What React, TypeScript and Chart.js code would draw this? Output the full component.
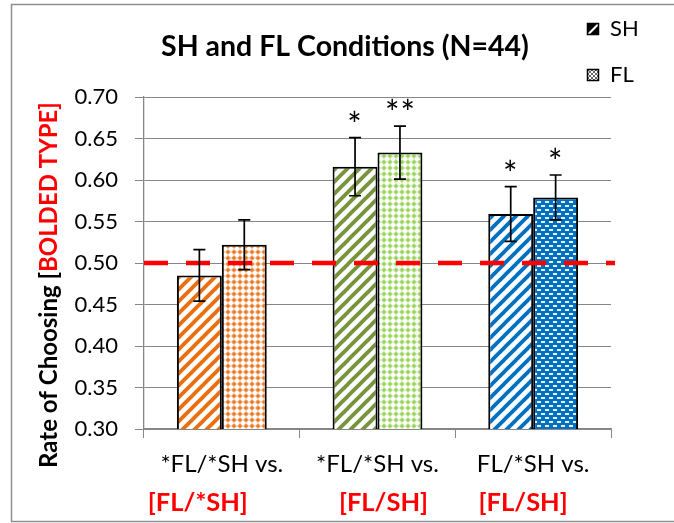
import { useEffect, useRef } from 'react';
import { Chart, registerables } from 'chart.js';

Chart.register(...registerables);

// ---------- data ----------
const categories = ['*FL/*SH vs.', '*FL/*SH vs.', 'FL/*SH vs.'];
const subLabels = ['[FL/*SH]', '[FL/SH]', '[FL/SH]'];
const seriesNames = ['SH', 'FL'];
const shValues = [0.485, 0.616, 0.559];
const flValues = [0.522, 0.633, 0.579];
const shErrors = [0.031, 0.035, 0.033];
const flErrors = [0.030, 0.032, 0.027];
const shStars = ['', '*', '*'];
const flStars = ['', '**', '*'];
const yMin = 0.3;
const yMax = 0.7;
const yStep = 0.05;
const chanceLevel = 0.5;
const titleText = 'SH and FL Conditions (N=44)';
const yTitleBlack = 'Rate of Choosing [';
const yTitleRed = 'BOLDED TYPE]';

// ---------- styles ----------
const shColors = ['#E87010', '#77933C', '#0070C0'];
const flColors = [[232, 115, 26], [146, 208, 80], [0, 112, 192]];
const flKinds = ['cross', 'cross', 'dash'];
const subLabelShift = [-24, 6, -10];
const FONT = 'Lato, "Open Sans", sans-serif';
const GRID = '#868686';

function stripePattern(ctx: CanvasRenderingContext2D, color: string) {
  const c = document.createElement('canvas');
  const s = 12;
  c.width = s; c.height = s;
  const g = c.getContext('2d')!;
  g.fillStyle = '#ffffff';
  g.fillRect(0, 0, s, s);
  g.strokeStyle = color;
  g.lineWidth = 3.8;
  g.lineCap = 'square';
  for (const o of [-s, 0, s]) {
    g.beginPath();
    g.moveTo(o - 1, s + 1);
    g.lineTo(o + s + 1, -1);
    g.stroke();
  }
  return ctx.createPattern(c, 'repeat')!;
}

function crossPattern(ctx: CanvasRenderingContext2D, rgb: number[]) {
  const c = document.createElement('canvas');
  const s = 6;
  c.width = s; c.height = s;
  const g = c.getContext('2d')!;
  g.fillStyle = '#ffffff';
  g.fillRect(0, 0, s, s);
  for (let x = 0; x < s; x++) {
    for (let y = 0; y < s; y++) {
      const dx = Math.min(x + 0.5, s - x - 0.5);
      const dy = Math.min(y + 0.5, s - y - 0.5);
      const d = dx + dy;
      let a = 0;
      if (d < 1.1) a = 0.95;
      else if (d < 2.1) a = 0.75;
      else if (d < 3.1) a = 0.3;
      if (a > 0) {
        g.fillStyle = `rgba(${rgb[0]},${rgb[1]},${rgb[2]},${a})`;
        g.fillRect(x, y, 1, 1);
      }
    }
  }
  return ctx.createPattern(c, 'repeat')!;
}

function dashPattern(ctx: CanvasRenderingContext2D, rgb: number[]) {
  const c = document.createElement('canvas');
  c.width = 8; c.height = 8;
  const g = c.getContext('2d')!;
  g.fillStyle = `rgb(${rgb[0]},${rgb[1]},${rgb[2]})`;
  g.fillRect(0, 0, 8, 8);
  g.fillStyle = 'rgba(255,255,255,0.9)';
  g.fillRect(1, 1, 4, 2);
  g.fillRect(5, 5, 3, 2);
  g.fillRect(0, 5, 1, 2);
  return ctx.createPattern(c, 'repeat')!;
}

const decorPlugin = {
  id: 'decor',
  beforeDraw(chart: any) {
    const ctx = chart.ctx as CanvasRenderingContext2D;
    ctx.save();
    ctx.strokeStyle = '#8F8F8F';
    ctx.lineWidth = 1.5;
    ctx.strokeRect(11.5, 4.5, 720, 517);
    ctx.restore();
  },
  afterDatasetsDraw(chart: any) {
    const ctx = chart.ctx as CanvasRenderingContext2D;
    const { chartArea, scales } = chart;
    const ys = scales.y;
    // chance line
    const y50 = ys.getPixelForValue(chanceLevel);
    ctx.save();
    ctx.strokeStyle = '#FF0000';
    ctx.lineWidth = 4.5;
    ctx.setLineDash([24, 18]);
    ctx.beginPath();
    ctx.moveTo(chartArea.left, y50);
    ctx.lineTo(chartArea.right + 4, y50);
    ctx.stroke();
    ctx.restore();

    // error bars and stars
    const sets = [
      { vals: shValues, errs: shErrors, stars: shStars },
      { vals: flValues, errs: flErrors, stars: flStars },
    ];
    sets.forEach((s, di) => {
      const meta = chart.getDatasetMeta(di);
      meta.data.forEach((bar: any, i: number) => {
        const x = bar.x;
        const top = ys.getPixelForValue(s.vals[i] + s.errs[i]);
        const bot = ys.getPixelForValue(s.vals[i] - s.errs[i]);
        ctx.save();
        ctx.strokeStyle = '#000';
        ctx.lineWidth = 1.7;
        ctx.beginPath();
        ctx.moveTo(x, top); ctx.lineTo(x, bot);
        ctx.moveTo(x - 6, top); ctx.lineTo(x + 6, top);
        ctx.moveTo(x - 6, bot); ctx.lineTo(x + 6, bot);
        ctx.stroke();
        if (s.stars[i]) {
          ctx.fillStyle = '#000';
          ctx.font = `34px ${FONT}`;
          (ctx as any).letterSpacing = '1px';
          ctx.textAlign = 'center';
          ctx.textBaseline = 'middle';
          ctx.fillText(s.stars[i], x + (s.stars[i].length > 1 ? 0.5 : 0), top - 12);
        }
        ctx.restore();
      });
    });
  },
  afterDraw(chart: any) {
    const ctx = chart.ctx as CanvasRenderingContext2D;
    const xs = chart.scales.x;
    ctx.save();
    // title
    ctx.fillStyle = '#000';
    ctx.font = `bold 28.5px ${FONT}`;
    ctx.textAlign = 'center';
    ctx.textBaseline = 'alphabetic';
    ctx.fillText(titleText, 345, 56);

    // legend
    const legendY = [23, 69];
    seriesNames.forEach((name, i) => {
      const bx = 587, by = legendY[i], bs = 11;
      ctx.fillStyle = '#fff';
      ctx.fillRect(bx, by, bs, bs);
      if (i === 0) {
        ctx.fillStyle = '#000';
        ctx.beginPath();
        ctx.moveTo(bx, by); ctx.lineTo(bx + bs, by); ctx.lineTo(bx, by + bs); ctx.closePath();
        ctx.fill();
        ctx.beginPath();
        ctx.moveTo(bx + bs, by + 3); ctx.lineTo(bx + bs, by + bs); ctx.lineTo(bx + 3, by + bs); ctx.closePath();
        ctx.fill();
      } else {
        for (let a = 0; a < bs; a += 2) {
          for (let b = 0; b < bs; b += 2) {
            if ((a + b) % 4 === 0) { ctx.fillStyle = '#666'; ctx.fillRect(bx + a, by + b, 2, 2); }
          }
        }
      }
      ctx.strokeStyle = '#000';
      ctx.lineWidth = 1.5;
      ctx.strokeRect(bx + 0.5, by + 0.5, bs, bs);
      ctx.fillStyle = '#000';
      ctx.font = `22px ${FONT}`;
      ctx.textAlign = 'left';
      ctx.textBaseline = 'middle';
      ctx.fillText(name, 610, by + 6);
    });

    // red sub labels
    ctx.fillStyle = '#FF0000';
    ctx.font = `bold 25.5px ${FONT}`;
    ctx.textAlign = 'center';
    ctx.textBaseline = 'middle';
    subLabels.forEach((t, i) => {
      ctx.fillText(t, xs.getPixelForValue(i) + subLabelShift[i], 503);
    });

    // y title (two colours)
    ctx.translate(49, 285);
    ctx.rotate(-Math.PI / 2);
    ctx.font = `bold 24px ${FONT}`;
    ctx.textAlign = 'left';
    ctx.textBaseline = 'middle';
    const w1 = ctx.measureText(yTitleBlack).width;
    const w2 = ctx.measureText(yTitleRed).width;
    const x0 = -(w1 + w2) / 2;
    ctx.fillStyle = '#000';
    ctx.fillText(yTitleBlack, x0, 0);
    ctx.fillStyle = '#FF0000';
    ctx.fillText(yTitleRed, x0 + w1, 0);
    ctx.restore();
  },
};

export default function App() {
  const ref = useRef<HTMLCanvasElement | null>(null);
  useEffect(() => {
    const canvas = ref.current!;
    const ctx = canvas.getContext('2d')!;
    const shBg = shColors.map((c) => stripePattern(ctx, c));
    const flBg = flColors.map((c, i) => (flKinds[i] === 'dash' ? dashPattern(ctx, c) : crossPattern(ctx, c)));
    const chart = new Chart(canvas, {
      type: 'bar',
      data: {
        labels: categories,
        datasets: [
          { label: seriesNames[0], data: shValues, backgroundColor: shBg as any, borderColor: '#000', borderWidth: 2, categoryPercentage: 0.577, barPercentage: 1 },
          { label: seriesNames[1], data: flValues, backgroundColor: flBg as any, borderColor: '#000', borderWidth: 2, categoryPercentage: 0.577, barPercentage: 1 },
        ],
      },
      options: {
        responsive: false,
        animation: false,
        devicePixelRatio: 1,
        layout: { padding: { top: 97, right: 63, bottom: 0, left: 0 } },
        plugins: { legend: { display: false }, tooltip: { enabled: false }, title: { display: false } },
        scales: {
          x: {
            afterFit: (s: any) => { s.height = 94; },
            grid: { display: true, drawOnChartArea: false, drawTicks: true, tickLength: 9, offset: true, color: GRID },
            border: { color: GRID, width: 1.3 },
            ticks: { color: '#000', font: { family: FONT, size: 24 }, padding: 12, maxRotation: 0, autoSkip: false },
          },
          y: {
            min: yMin,
            max: yMax,
            afterFit: (s: any) => { s.width = 144; },
            grid: { color: GRID, lineWidth: 1, drawTicks: true, tickLength: 9 },
            border: { color: GRID, width: 1.3 },
            ticks: {
              stepSize: yStep,
              color: '#000',
              font: { family: FONT, size: 22 },
              padding: 17,
              callback: (v: any) => Number(v).toFixed(2),
            },
          },
        },
      },
      plugins: [decorPlugin],
    });
    return () => chart.destroy();
  }, []);
  return (
    <div style={{ position: 'absolute', left: 0, top: 0, width: 674, height: 523, background: '#fff' }}>
      <canvas ref={ref} width={674} height={523} style={{ display: 'block' }} />
    </div>
  );
}
